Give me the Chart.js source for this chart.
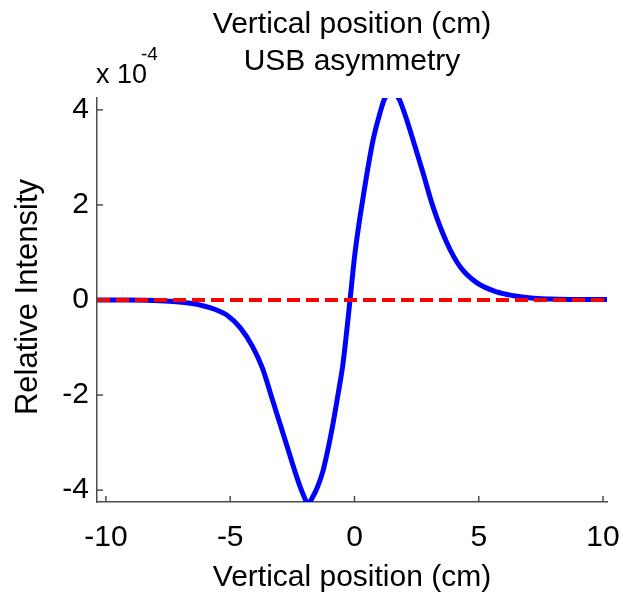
<!DOCTYPE html>
<html>
<head>
<meta charset="utf-8">
<script src="https://cdn.jsdelivr.net/npm/chart.js@4.4.1/dist/chart.umd.min.js"></script>
<style>
    html, body { margin: 0; padding: 0; background: #fff; }
    canvas { display: block; }
</style>
</head>
<body>
<canvas id="chart" width="623" height="594"></canvas>
<script>
// values, y in units of 1e-4
const positions = [-10.36, -9.1, -8.1, -7.3, -6.6, -6.1, -5.6, -5.1, -4.6, -4.1, -3.7, -3.3, -3.0, -2.7, -2.4, -2.15, -2.0, -1.88, -1.72, -1.5, -1.27, -1.05, -0.86, -0.65, -0.46, -0.18, 0.02, 0.35, 0.75, 1.03, 1.2, 1.5, 1.8, 2.0, 2.23, 2.5, 2.76, 3.16, 3.72, 4.25, 4.93, 5.73, 6.4, 7.1, 7.9, 8.9, 10.16];
const usbValues = [0, 0, -0.01, -0.03, -0.07, -0.12, -0.2, -0.33, -0.58, -0.98, -1.44, -2.1, -2.6, -3.1, -3.6, -3.98, -4.17, -4.3, -4.18, -3.95, -3.6, -3.1, -2.59, -1.95, -1.33, 0, 0.99, 2.17, 3.37, 3.94, 4.22, 4.4, 4.22, 3.95, 3.58, 3.12, 2.67, 1.96, 1.2, 0.7, 0.36, 0.17, 0.09, 0.04, 0.02, 0.01, 0.01];
const refPositions = [-10.36, 10.16];
const refValues = [0, 0];
const xTicks = [-10, -5, 0, 5, 10];
const yTicks = [-4, -2, 0, 2, 4];
const titleLines = ['Vertical position (cm)', 'USB asymmetry'];
const xLabel = 'Vertical position (cm)';
const yLabel = 'Relative Intensity';
const yExponent = '-4';

const font = 'Liberation Sans, Arial, sans-serif';
const axisColor = '#4d4d4d';

const extras = {
    id: 'extras',
    afterDraw(chart) {
        const ctx = chart.ctx;
        const area = chart.chartArea;
        const xs = chart.scales.x;
        const ys = chart.scales.y;
        ctx.save();
        // inward tick marks
        ctx.strokeStyle = axisColor;
        ctx.lineWidth = 1.5;
        xTicks.forEach(v => {
            const px = xs.getPixelForValue(v);
            ctx.beginPath();
            ctx.moveTo(px, area.bottom);
            ctx.lineTo(px, area.bottom - 6);
            ctx.stroke();
        });
        yTicks.forEach(v => {
            const py = ys.getPixelForValue(v);
            ctx.beginPath();
            ctx.moveTo(area.left, py);
            ctx.lineTo(area.left + 6, py);
            ctx.stroke();
        });
        // texts
        ctx.fillStyle = '#000';
        ctx.textAlign = 'center';
        ctx.textBaseline = 'middle';
        ctx.font = `30px ${font}`;
        ctx.fillText(titleLines[0], 352, 25);
        ctx.fillText(titleLines[1], 352, 62);
        ctx.fillText(xLabel, 352, 578);
        ctx.save();
        ctx.translate(28, 297);
        ctx.rotate(-Math.PI / 2);
        ctx.font = `31px ${font}`;
        ctx.fillText(yLabel, 0, 0);
        ctx.restore();
        ctx.textAlign = 'left';
        ctx.font = `27px ${font}`;
        ctx.fillText('x 10', 96, 76);
        ctx.font = `19px ${font}`;
        ctx.fillText(yExponent, 141, 55);
        ctx.restore();
    }
};

new Chart(document.getElementById('chart'), {
    type: 'line',
    data: {
        datasets: [
            {
                label: 'reference',
                data: refPositions.map((x, i) => ({x, y: refValues[i]})),
                borderColor: '#ff0000',
                borderWidth: 4,
                borderDash: [13, 6],
                pointRadius: 0,
                clip: 0
            },
            {
                label: 'USB asymmetry',
                data: positions.map((x, i) => ({x, y: usbValues[i]})),
                borderColor: '#0000ff',
                borderWidth: 5,
                cubicInterpolationMode: 'monotone',
                pointRadius: 0,
                clip: 0
            }
        ]
    },
    options: {
        responsive: false,
        animation: false,
        layout: {padding: {top: 98, right: 16, left: 0, bottom: 0}},
        plugins: {legend: {display: false}, tooltip: {enabled: false}},
        scales: {
            x: {
                type: 'linear',
                min: -10.36,
                max: 10.16,
                afterFit: s => { s.height = 92; s.paddingLeft = 0; s.paddingRight = 0; },
                afterBuildTicks: s => { s.ticks = xTicks.map(v => ({value: v})); },
                grid: {display: false, drawTicks: false},
                border: {display: true, color: axisColor, width: 1.5},
                ticks: {color: '#000', font: {family: font, size: 30}, padding: 18, maxRotation: 0}
            },
            y: {
                min: -4.25,
                max: 4.25,
                afterFit: s => { s.width = 97; s.paddingTop = 0; s.paddingBottom = 0; },
                afterBuildTicks: s => { s.ticks = yTicks.map(v => ({value: v})); },
                grid: {display: false, drawTicks: false},
                border: {display: true, color: axisColor, width: 1.5},
                ticks: {color: '#000', font: {family: font, size: 30}, padding: 8}
            }
        }
    },
    plugins: [extras]
});
</script>
</body>
</html>
